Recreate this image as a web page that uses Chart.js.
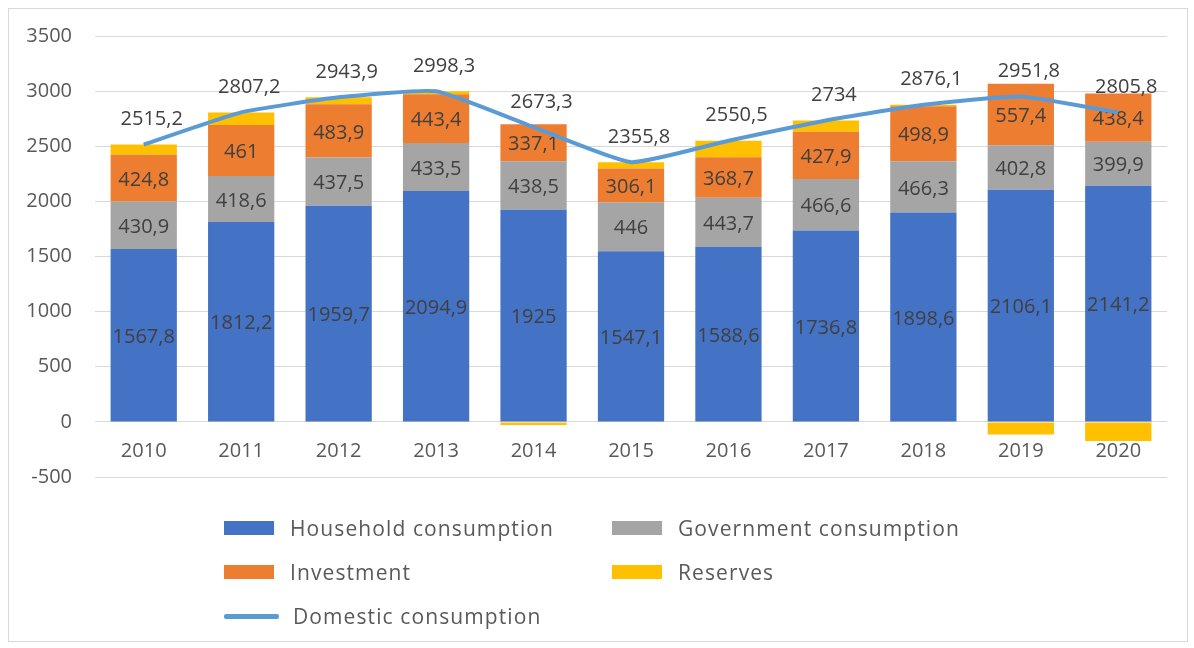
<!DOCTYPE html>
<html>
<head>
<meta charset="utf-8">
<title>Domestic consumption 2010-2020</title>
<script src="https://cdn.jsdelivr.net/npm/chart.js@4.4.1/dist/chart.umd.min.js"></script>
<style>
  html, body { margin: 0; padding: 0; background: #fff; }
  body {
    width: 1194px;
    height: 648px;
    position: relative;
    overflow: hidden;
    font-family: "Open Sans", sans-serif;
  }
  #frame {
    position: absolute;
    left: 8px;
    top: 8px;
    width: 1178px;
    height: 632px;
    border: 1px solid #d9d9d9;
  }
  #chart {
    position: absolute;
    left: 0;
    top: 0;
  }
  #legend {
    position: absolute;
    left: 224px;
    top: 506px;
    display: grid;
    grid-template-columns: 388px auto;
    grid-auto-rows: 44px;
    color: #595959;
    font-size: 21px;
    letter-spacing: 1.1px;
  }
  .item { display: flex; align-items: center; }
  .swatch { width: 50px; height: 14px; margin-right: 16px; }
  .swatch.line { width: 55px; height: 5px; border-radius: 2px; margin-right: 14px; }
</style>
</head>
<body>
<div id="frame"></div>
<canvas id="chart" width="1194" height="648"></canvas>
<div id="legend"></div>

<script>
// Anos
const years = ["2010", "2011", "2012", "2013", "2014", "2015", "2016", "2017", "2018", "2019", "2020"]

// Componentes (barras empilhadas)
const household = [1567.8, 1812.2, 1959.7, 2094.9, 1925, 1547.1, 1588.6, 1736.8, 1898.6, 2106.1, 2141.2]
const government = [430.9, 418.6, 437.5, 433.5, 438.5, 446, 443.7, 466.6, 466.3, 402.8, 399.9]
const investment = [424.8, 461, 483.9, 443.4, 337.1, 306.1, 368.7, 427.9, 498.9, 557.4, 438.4]
const reserves = [91.7, 115.4, 62.8, 26.5, -27.3, 56.6, 149.5, 102.7, 12.3, -114.5, -173.7]

// Linha do consumo doméstico
const domestic = [2515.2, 2807.2, 2943.9, 2998.3, 2673.3, 2355.8, 2550.5, 2734, 2876.1, 2951.8, 2805.8]

// Eixo Y
const yTicks = [-500, 0, 500, 1000, 1500, 2000, 2500, 3000, 3500]

const FONT = "'Open Sans', sans-serif"
const TEXT_COLOR = "#595959"
const LABEL_COLOR = "#404040"

// Formato com vírgula decimal
function fmt(v) {
  return String(v).replace(".", ",")
}

// Rótulos de valores, categorias no zero e rótulos da linha
const labelPlugin = {
  id: "valueLabels",
  afterDatasetDraw(chart, args) {
    const ds = chart.data.datasets[args.index]
    if (ds.type === "line" || !ds.showValues) return
    const ctx = chart.ctx
    ctx.save()
    ctx.font = `20px ${FONT}`
    ctx.fillStyle = LABEL_COLOR
    ctx.textAlign = "center"
    ctx.textBaseline = "middle"
    args.meta.data.forEach((bar, i) => {
      const p = bar.getProps(["x", "y", "base"], true)
      ctx.fillText(fmt(ds.data[i]), p.x, (p.y + p.base) / 2 + 2)
    })
    ctx.restore()
  },
  afterDatasetsDraw(chart) {
    const ctx = chart.ctx
    const xScale = chart.scales.x
    const yScale = chart.scales.y
    const zero = yScale.getPixelForValue(0)

    ctx.save()
    ctx.textAlign = "center"
    ctx.textBaseline = "middle"

    // Categorias logo abaixo da linha do zero
    ctx.font = `20px ${FONT}`
    ctx.fillStyle = TEXT_COLOR
    years.forEach((y, i) => {
      ctx.fillText(y, xScale.getPixelForValue(i), zero + 29)
    })

    // Valores da linha
    const idx = chart.data.datasets.findIndex((d) => d.type === "line")
    const meta = chart.getDatasetMeta(idx)
    ctx.font = `20px ${FONT}`
    ctx.fillStyle = LABEL_COLOR
    meta.data.forEach((pt, i) => {
      ctx.fillText(fmt(domestic[i]), pt.x + 8, pt.y - 25)
    })
    ctx.restore()
  },
}

const ctx = document.getElementById("chart").getContext("2d")

const chart = new Chart(ctx, {
  data: {
    labels: years,
    datasets: [
      {
        type: "line",
        label: "Domestic consumption",
        data: domestic,
        borderColor: "#5B9BD5",
        backgroundColor: "#5B9BD5",
        borderWidth: 4,
        pointRadius: 0,
        tension: 0.15,
        order: 0,
      },
      {
        type: "bar",
        label: "Household consumption",
        data: household,
        backgroundColor: "#4472C4",
        showValues: true,
        order: 1,
      },
      {
        type: "bar",
        label: "Government consumption",
        data: government,
        backgroundColor: "#A5A5A5",
        showValues: true,
        order: 1,
      },
      {
        type: "bar",
        label: "Investment",
        data: investment,
        backgroundColor: "#ED7D31",
        showValues: true,
        order: 1,
      },
      {
        type: "bar",
        label: "Reserves",
        data: reserves,
        backgroundColor: "#FFC000",
        order: 1,
      },
    ],
  },
  options: {
    responsive: false,
    animation: false,
    devicePixelRatio: 1,
    layout: {
      padding: { top: 36, right: 27, bottom: 171, left: 0 },
    },
    datasets: {
      bar: {
        categoryPercentage: 1,
        barPercentage: 0.68,
      },
    },
    plugins: {
      legend: { display: false },
      tooltip: { enabled: false },
    },
    scales: {
      x: {
        stacked: true,
        display: false,
      },
      y: {
        stacked: true,
        min: yTicks[0],
        max: yTicks[yTicks.length - 1],
        afterFit: (scale) => {
          scale.width = 95
        },
        afterBuildTicks: (scale) => {
          scale.ticks = yTicks.map((v) => ({ value: v }))
        },
        ticks: {
          color: TEXT_COLOR,
          font: { family: FONT, size: 20 },
          padding: 23,
          callback: (v) => String(v),
        },
        grid: {
          color: "#d9d9d9",
          lineWidth: 1,
          drawTicks: false,
        },
        border: { display: false },
      },
    },
  },
  plugins: [labelPlugin],
})

// Legenda em duas colunas
const legendOrder = ["Household consumption", "Government consumption", "Investment", "Reserves", "Domestic consumption"]
const legendEl = document.getElementById("legend")
legendOrder.forEach((name) => {
  const ds = chart.data.datasets.find((d) => d.label === name)
  const item = document.createElement("div")
  item.className = "item"
  const sw = document.createElement("span")
  sw.className = ds.type === "line" ? "swatch line" : "swatch"
  sw.style.background = ds.type === "line" ? ds.borderColor : ds.backgroundColor
  const txt = document.createElement("span")
  txt.textContent = name
  item.appendChild(sw)
  item.appendChild(txt)
  legendEl.appendChild(item)
})
</script>
</body>
</html>
